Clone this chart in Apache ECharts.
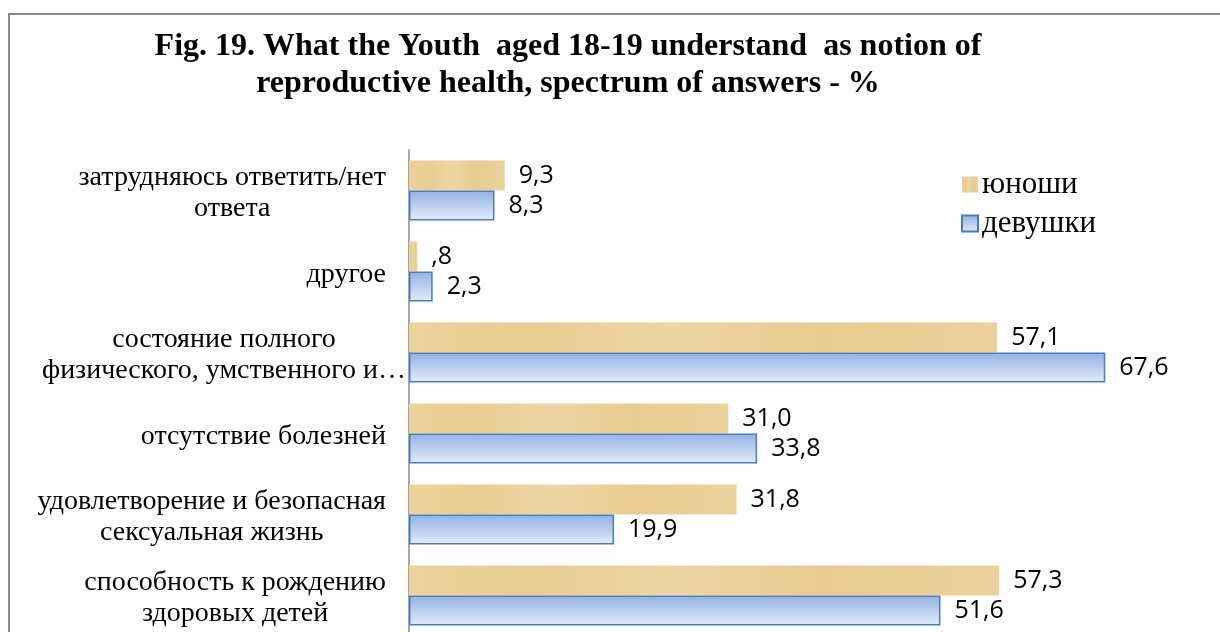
<!DOCTYPE html>
<html>
<head>
<meta charset="utf-8">
<script src="https://cdn.jsdelivr.net/npm/echarts@6/dist/echarts.min.js"></script>
<style>
  html, body { margin: 0; padding: 0; background: #fff; }
  #chart { width: 1220px; height: 632px; }
</style>
</head>
<body>
<div id="chart"></div>
<script>
// Answer categories, listed top to bottom
var categories = [
  'затрудняюсь ответить/нет\nответа',
  'другое',
  'состояние полного\nфизического, умственного и…',
  'отсутствие болезней',
  'удовлетворение и безопасная\nсексуальная жизнь',
  'способность к рождению\nздоровых детей'
];
var seriesNames = ['юноши', 'девушки'];
var boys  = [9.3, 0.8, 57.1, 31.0, 31.8, 57.3];
var girls = [8.3, 2.3, 67.6, 33.8, 19.9, 51.6];

// Values are shown with a decimal comma; a leading zero is dropped (",8")
function fmt(v) {
  var s = v.toFixed(1).replace('.', ',');
  return s.charAt(0) === '0' ? s.slice(1) : s;
}

var chart = echarts.init(document.getElementById('chart'));

var tan = new echarts.graphic.LinearGradient(0, 0, 1, 0, [
  { offset: 0.00, color: '#ECD39C' },
  { offset: 0.20, color: '#E8CD92' },
  { offset: 0.45, color: '#EDD6A4' },
  { offset: 0.70, color: '#E7CB90' },
  { offset: 1.00, color: '#EBD29C' }
]);
var blue = new echarts.graphic.LinearGradient(0, 0, 0, 1, [
  { offset: 0, color: '#93B1E2' },
  { offset: 1, color: '#E3EBF8' }
]);

var labelStyle = {
  show: true,
  position: 'right',
  distance: 14,
  fontFamily: 'Open Sans',
  fontSize: 25,
  color: '#000',
  formatter: function (p) { return fmt(p.value); }
};

var catFont = { fontFamily: 'Liberation Serif', fontSize: 28, lineHeight: 31, color: '#000' };

chart.setOption({
  animation: false,
  backgroundColor: '#fff',
  title: {
    text: 'Fig. 19. What the Youth  aged 18-19 understand  as notion of\nreproductive health, spectrum of answers - %',
    left: 563,
    top: 23,
    textAlign: 'center',
    textStyle: {
      fontFamily: 'Liberation Serif',
      fontWeight: 'bold',
      fontSize: 32,
      lineHeight: 37,
      color: '#000'
    }
  },
  graphic: [{
    type: 'rect',
    shape: { x: 9, y: 14, width: 1300, height: 700 },
    style: { fill: 'none', stroke: '#8a8a8a', lineWidth: 2 },
    silent: true,
    z: -1
  }],
  legend: {
    orient: 'vertical',
    left: 956,
    top: 164,
    itemGap: 8,
    itemWidth: 16,
    itemHeight: 16,
    icon: 'rect',
    textStyle: { fontFamily: 'Liberation Serif', fontSize: 31, lineHeight: 31, color: '#000', padding: [0, 0, 0, -1] },
    data: seriesNames
  },
  grid: { left: 409, top: 150, width: 721, height: 486, outerBoundsMode: 'none' },
  xAxis: {
    type: 'value',
    min: 0,
    max: 70,
    show: false,
    splitLine: { show: false }
  },
  yAxis: {
    type: 'category',
    inverse: true,
    data: categories,
    axisLine: { show: true, onZero: false, lineStyle: { color: '#a6a6a6', width: 2 } },
    axisTick: { show: false },
    axisLabel: {
      margin: 3,
      padding: [6, 0, 0, 0],
      fontFamily: 'Liberation Serif',
      fontSize: 28,
      lineHeight: 31,
      color: '#000',
      align: 'right',
      // wrapped lines are centred; a truncated label runs up to the axis
      formatter: function (v) {
        var key = v.indexOf('…') >= 0 ? 'e' : 'c';
        return v.split('\n').map(function (l) { return '{' + key + '|' + l + '}'; }).join('\n');
      },
      rich: {
        c: Object.assign({ align: 'center', padding: [0, 20, 0, 0] }, catFont),
        e: Object.assign({ align: 'center' }, catFont)
      }
    }
  },
  series: [{
    name: seriesNames[0],
    type: 'bar',
    data: boys,
    barGap: '0%',
    barCategoryGap: '26%',
    itemStyle: { color: tan },
    label: labelStyle
  }, {
    name: seriesNames[1],
    type: 'bar',
    data: girls,
    itemStyle: { color: blue, borderColor: '#4A7EBB', borderWidth: 1.5 },
    label: labelStyle
  }]
});
</script>
</body>
</html>
